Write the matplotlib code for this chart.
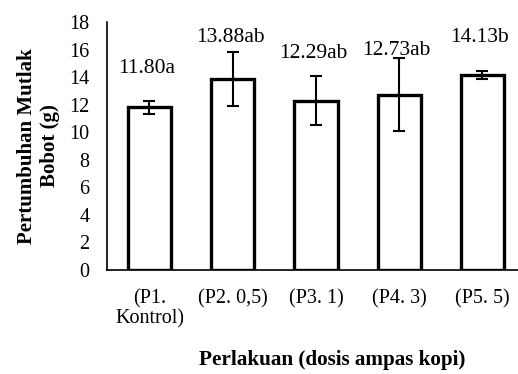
import matplotlib
matplotlib.use("Agg")
import matplotlib.pyplot as plt

categories = ["(P1.\nKontrol)", "(P2. 0,5)", "(P3. 1)", "(P4. 3)", "(P5. 5)"]
means = [11.80, 13.88, 12.29, 12.73, 14.13]
sds = [0.50, 1.97, 1.78, 2.63, 0.29]
labels = ["11.80a", "13.88ab", "12.29ab", "12.73ab", "14.13b"]
label_y = [14.65, 16.9, 15.75, 15.9, 16.85]
yticks = list(range(0, 19, 2))

plt.rcParams['font.family'] = ['Liberation Serif', 'DejaVu Serif']

fig = plt.figure(figsize=(5.18, 3.74), dpi=100)
ax = fig.add_axes([107/518, 1-270/374, (524-107)/518, (270-22)/374])

x = list(range(len(categories)))
ax.bar(x, means, width=0.52, color='white', edgecolor='black', linewidth=2.4, zorder=2)
ax.errorbar(x, means, yerr=sds, fmt='none', ecolor='black', elinewidth=1.5,
            capsize=4.3, capthick=1.5, zorder=3)
for xi, ly, t in zip(x, label_y, labels):
    ax.text(xi - 0.03, ly, t, ha='center', va='center', fontsize=15.5, zorder=4)

ax.set_xlim(-0.51, 4.5)
ax.set_ylim(0, 18)
ax.set_yticks(yticks)
ax.set_xticks(x)
ax.set_xticklabels(categories, fontsize=14.5, linespacing=1.05)
ax.tick_params(axis='y', length=0, labelsize=14.5, pad=12.5)
ax.tick_params(axis='x', length=0, labelsize=14.5, pad=14)
for s in ['top', 'right']:
    ax.spines[s].set_visible(False)
ax.spines['left'].set_linewidth(1.2)
ax.spines['bottom'].set_linewidth(1.2)

ax.set_ylabel("Pertumbuhan Mutlak\nBobot (g)", fontsize=15, fontweight='bold', labelpad=7)
fig.text(332/518, 1-360/374, "Perlakuan (dosis ampas kopi)", fontsize=15.2, fontweight='bold',
         ha='center', va='center')

fig.savefig("out.png", dpi=100)
